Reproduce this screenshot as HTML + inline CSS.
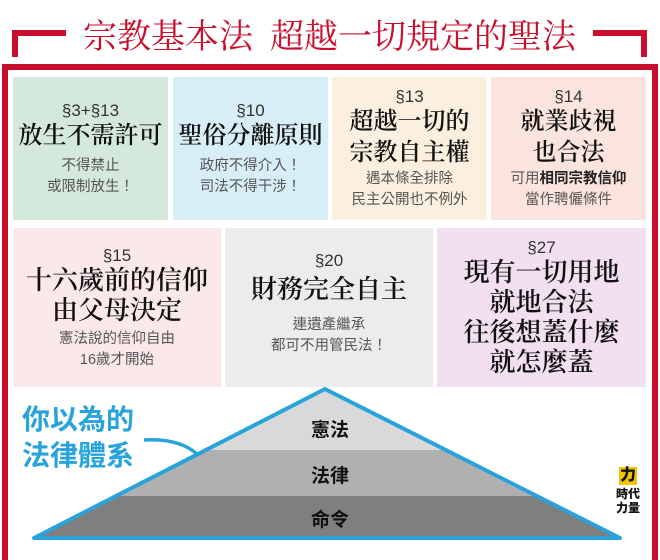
<!DOCTYPE html>
<html><head><meta charset="utf-8"><style>
body{margin:0;width:660px;height:542px;background:#fff;position:relative;overflow:hidden;font-family:"Liberation Sans","Noto Sans CJK TC",sans-serif}
.a{position:absolute}
.card{position:absolute;display:flex;flex-direction:column;align-items:center;justify-content:center;text-align:center;color:#222}
.n{font-size:17px;line-height:21px;color:#333}
.h{font-family:"Liberation Serif","Noto Serif CJK SC",serif;font-size:24px;line-height:31px;color:#111;font-weight:600}
.h2{font-family:"Liberation Serif","Noto Serif CJK SC",serif;font-size:26px;line-height:30px;color:#111;font-weight:600}
.s{font-size:14.5px;line-height:21px;color:#555}
</style></head><body>
<div class="a" style="left:12px;top:30px;width:54px;height:6px;background:#c8102e"></div>
<div class="a" style="left:12px;top:30px;width:6px;height:27px;background:#c8102e"></div>
<div class="a" style="left:593px;top:30px;width:54px;height:6px;background:#c8102e"></div>
<div class="a" style="left:641px;top:30px;width:6px;height:27px;background:#c8102e"></div>
<div class="a" style="left:66px;top:16px;width:527px;text-align:center;color:#c8102e;font-family:'Liberation Serif','Noto Serif CJK SC',serif;font-size:34px;line-height:44px;white-space:nowrap">宗教基本法&nbsp;&nbsp;超越一切規定的聖法</div>
<div class="a" style="left:2px;top:64px;width:644px;height:490px;border:6px solid #c8102e;border-bottom:none"></div>

<div class="card" style="left:13px;top:77px;width:155px;height:143px;background:#d5e8dc"><div class="n">§3+§13</div><div class="h">放生不需許可</div><div class="s" style="margin-top:4px">不得禁止<br>或限制放生！</div></div>
<div class="card" style="left:173px;top:77px;width:155px;height:143px;background:#d8eef6"><div class="n">§10</div><div class="h">聖俗分離原則</div><div class="s" style="margin-top:4px">政府不得介入！<br>司法不得干涉！</div></div>
<div class="card" style="left:332px;top:77px;width:155px;height:143px;background:#fbefdf"><div class="n">§13</div><div class="h">超越一切的<br>宗教自主權</div><div class="s">遇本條全排除<br>民主公開也不例外</div></div>
<div class="card" style="left:491px;top:77px;width:155px;height:143px;background:#fbe4de"><div class="n">§14</div><div class="h">就業歧視<br>也合法</div><div class="s">可用<b style="color:#222">相同宗教信仰</b><br>當作聘僱條件</div></div>

<div class="card" style="left:13px;top:228px;width:208px;height:159px;background:#fbe8ea"><div class="n">§15</div><div class="h2">十六歲前的信仰<br>由父母決定</div><div class="s" style="margin-top:3px">憲法說的信仰自由<br>16歲才開始</div></div>
<div class="card" style="left:225px;top:228px;width:208px;height:159px;background:#ececec;justify-content:flex-start;padding-top:22px;box-sizing:border-box"><div class="n">§20</div><div class="h2" style="margin-top:4px">財務完全自主</div><div class="s" style="margin-top:10px">連遺產繼承<br>都可不用管民法！</div></div>
<div class="card" style="left:437px;top:228px;width:209px;height:159px;background:#f2dff0"><div class="n">§27</div><div class="h2">現有一切用地<br>就地合法<br>往後想蓋什麼<br>就怎麼蓋</div></div>

<svg class="a" style="left:0;top:0" width="660" height="542">
<defs><clipPath id="c"><polygon points="325,389 620,538 34,538"/></clipPath></defs>
<g clip-path="url(#c)">
<rect x="0" y="380" width="660" height="70" fill="#d9d9d9"/>
<rect x="0" y="450" width="660" height="46" fill="#b0b0b0"/>
<rect x="0" y="496" width="660" height="50" fill="#7f7f7f"/>
</g>
<polygon points="325,389 620,538 34,538" fill="none" stroke="#29a3db" stroke-width="4" stroke-linejoin="round"/>
<path d="M144,440 Q180,438 198,455" fill="none" stroke="#29a3db" stroke-width="3.5"/>
<rect x="619" y="467" width="18" height="18" fill="#f5c400"/>
</svg>
<div class="a" style="left:300px;top:415px;width:60px;text-align:center;font-weight:bold;font-size:19px;color:#111">憲法</div>
<div class="a" style="left:300px;top:461px;width:60px;text-align:center;font-weight:bold;font-size:19px;color:#111">法律</div>
<div class="a" style="left:300px;top:505px;width:60px;text-align:center;font-weight:bold;font-size:19px;color:#111">命令</div>
<div class="a" style="left:22px;top:402px;color:#29a3db;font-weight:bold;font-size:28px;line-height:36px">你以為的<br>法律體系</div>
<div class="a" style="left:617px;top:467px;width:22px;text-align:center;font-weight:900;font-size:16px;line-height:18px;color:#111">力</div>
<div class="a" style="left:616px;top:487px;width:24px;text-align:center;font-weight:900;font-size:12px;line-height:14px;color:#111">時代<br>力量</div>
</body></html>
